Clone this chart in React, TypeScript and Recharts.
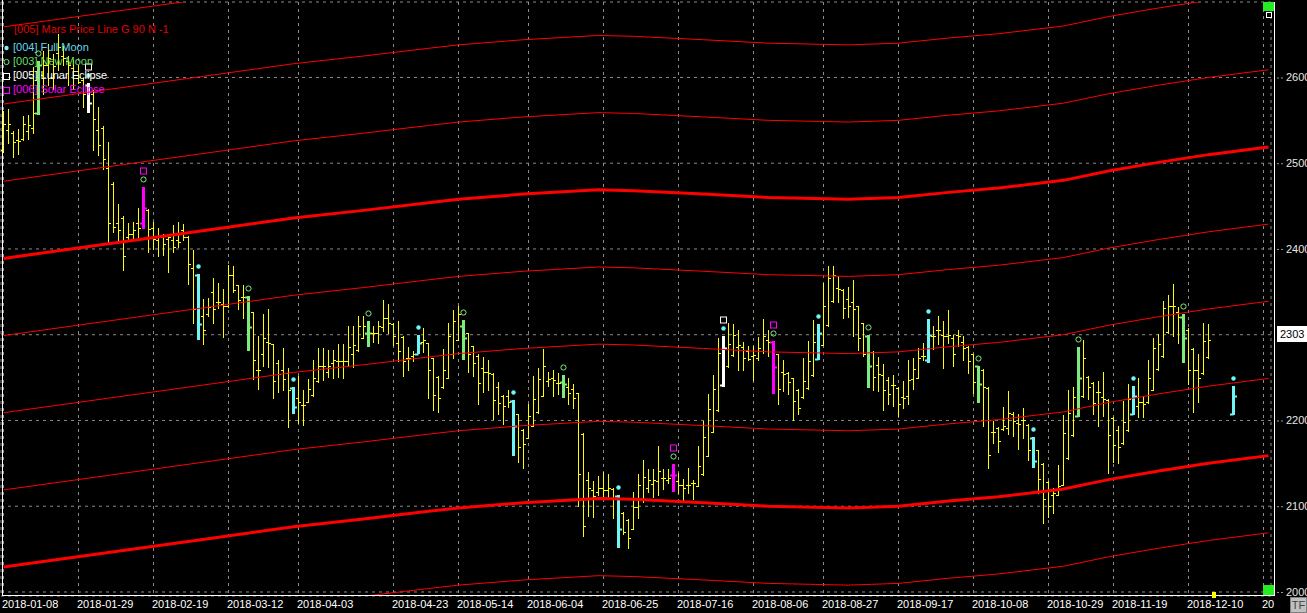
import { Bar, CartesianGrid, ComposedChart, Line, XAxis, YAxis } from 'recharts';

// daily OHLC, bar index 0 = 2018-01-08 (null = no bar)
const opens = [
  2515, 2539, 2535, 2527, 2528, 2538, 2541, 2558, 2603, 2615,
  2599, 2629, 2625, 2619, 2611, 2599, 2597, 2591, 2581, 2539,
  2541, 2495, 2476, 2430, 2436, 2414, 2418, 2430, 2430, 2446,
  2424, 2410, 2415, 2412, 2410, 2410, 2422, 2414, 2378, 2370,
  2322, 2324, 2350, 2338, 2336, 2334, 2370, 2358, 2344, 2344,
  2326, 2259, 2277, 2292, 2289, 2267, 2259, 2255, 2238, 2226,
  2218, 2222, 2230, 2246, 2263, 2257, 2267, 2269, 2269, 2269,
  2277, 2282, 2296, 2302, 2302, 2302, 2309, 2320, 2313, 2290,
  2297, 2273, 2275, 2277, 2292, 2290, 2273, 2251, 2239, 2250,
  2277, 2294, 2310, 2302, 2287, 2275, 2261, 2256, 2254, 2239,
  2229, 2229, 2223, 2208, 2189, 2180, 2194, 2210, 2229, 2246,
  2249, 2244, 2245, 2239, 2237, 2232, 2184, 2131, 2119, 2117,
  2121, 2119, 2120, 2112, 2092, 2084, 2074, 2099, 2107, 2121,
  2126, 2129, 2133, 2131, 2136, 2129, 2125, 2125, 2127, 2123,
  2137, 2158, 2187, 2212, 2241, 2263, 2276, 2286, 2286, 2281,
  2275, 2273, 2281, 2294, 2292, 2277, 2257, 2255, 2249, 2236,
  2227, 2238, 2253, 2272, 2288, 2311, 2339, 2354, 2352, 2342,
  2338, 2333, 2314, 2299, 2280, 2265, 2253, 2247, 2241, 2238,
  2227, 2229, 2248, 2250, 2275, 2270, 2298, 2306, 2300, 2298,
  2296, 2300, 2292, 2286, 2277, 2263, 2259, 2238, 2187, 2191,
  2190, 2191, 2208, 2197, 2201, 2195, 2180, 2165, 2149, 2128,
  2113, 2113, 2125, 2156, 2183, 2205, 2228, 2251, 2244, 2233,
  2227, 2224, 2203, 2189, 2174, 2189, 2208, 2217, 2222, 2221,
  2236, 2260, 2275, 2303, 2333, 2326, 2321, 2306, 2283, 2259,
  2255, 2274, null, null, null, null, 2208,
];
const highs = [
  2561, 2563, 2537, 2540, 2555, 2556, 2612, 2619, 2631, 2639,
  2627, 2651, 2637, 2625, 2620, 2615, 2599, 2593, 2585, 2565,
  2543, 2525, 2478, 2452, 2439, 2430, 2431, 2448, 2472, 2447,
  2432, 2424, 2418, 2418, 2428, 2432, 2429, 2415, 2399, 2371,
  2342, 2343, 2366, 2360, 2353, 2381, 2380, 2358, 2358, 2345,
  2326, 2298, 2324, 2330, 2289, 2270, 2285, 2261, 2239, 2252,
  2236, 2248, 2271, 2285, 2285, 2282, 2282, 2289, 2289, 2310,
  2310, 2322, 2322, 2316, 2310, 2316, 2340, 2336, 2314, 2316,
  2298, 2286, 2281, 2300, 2308, 2290, 2273, 2252, 2283, 2314,
  2329, 2334, 2317, 2302, 2287, 2277, 2274, 2271, 2255, 2245,
  2230, 2235, 2224, 2208, 2190, 2219, 2252, 2261, 2283, 2257,
  2259, 2255, 2253, 2249, 2243, 2232, 2185, 2140, 2129, 2135,
  2140, 2138, 2121, 2113, 2093, 2085, 2117, 2137, 2154, 2143,
  2143, 2170, 2143, 2143, 2149, 2139, 2132, 2144, 2131, 2170,
  2199, 2231, 2253, 2296, 2298, 2314, 2313, 2305, 2292, 2287,
  2287, 2297, 2318, 2306, 2293, 2277, 2270, 2256, 2250, 2237,
  2273, 2293, 2317, 2312, 2360, 2380, 2380, 2368, 2353, 2356,
  2364, 2334, 2314, 2300, 2281, 2274, 2266, 2251, 2253, 2239,
  2246, 2270, 2273, 2285, 2290, 2318, 2310, 2322, 2316, 2329,
  2300, 2306, 2298, 2287, 2278, 2264, 2260, 2239, 2199, 2192,
  2216, 2234, 2210, 2207, 2215, 2196, 2181, 2166, 2150, 2129,
  2121, 2148, 2206, 2235, 2239, 2286, 2294, 2252, 2245, 2246,
  2257, 2225, 2204, 2194, 2223, 2242, 2240, 2249, 2229, 2271,
  2296, 2301, 2339, 2346, 2359, 2332, 2324, 2308, 2284, 2278,
  2314, 2312, null, null, null, null, 2240,
];
const lows = [
  2513, 2523, 2507, 2511, 2527, 2528, 2535, 2556, 2581, 2591,
  2587, 2609, 2615, 2591, 2587, 2593, 2565, 2559, 2515, 2509,
  2493, 2408, 2420, 2409, 2375, 2411, 2412, 2414, 2423, 2396,
  2400, 2392, 2393, 2373, 2396, 2402, 2410, 2359, 2314, 2294,
  2289, 2322, 2314, 2331, 2297, 2332, 2350, 2330, 2320, 2281,
  2248, 2237, 2263, 2262, 2226, 2233, 2235, 2192, 2207, 2197,
  2195, 2221, 2229, 2245, 2247, 2251, 2249, 2251, 2249, 2263,
  2262, 2281, 2296, 2286, 2292, 2290, 2304, 2302, 2288, 2269,
  2252, 2259, 2269, 2277, 2280, 2226, 2212, 2210, 2238, 2249,
  2273, 2294, 2271, 2256, 2252, 2219, 2233, 2235, 2202, 2208,
  2196, 2216, 2159, 2152, 2145, 2180, 2193, 2209, 2228, 2240,
  2228, 2231, 2226, 2219, 2214, 2100, 2065, 2089, 2088, 2113,
  2111, 2111, 2086, 2051, 2068, 2051, 2073, 2086, 2105, 2117,
  2111, 2113, 2120, 2127, 2117, 2115, 2107, 2115, 2108, 2123,
  2136, 2158, 2186, 2211, 2239, 2262, 2275, 2259, 2259, 2270,
  2247, 2271, 2279, 2275, 2231, 2219, 2234, 2231, 2200, 2207,
  2226, 2237, 2252, 2271, 2288, 2310, 2338, 2338, 2320, 2321,
  2298, 2282, 2275, 2238, 2235, 2234, 2212, 2219, 2217, 2205,
  2215, 2219, 2237, 2249, 2271, 2267, 2283, 2289, 2261, 2290,
  2263, 2287, 2270, 2255, 2232, 2220, 2194, 2144, 2174, 2163,
  2189, 2184, 2182, 2167, 2179, 2154, 2144, 2115, 2080, 2088,
  2092, 2113, 2125, 2155, 2182, 2204, 2227, 2225, 2207, 2194,
  2205, 2139, 2151, 2150, 2173, 2188, 2206, 2204, 2204, 2220,
  2235, 2259, 2274, 2302, 2298, 2290, 2267, 2243, 2210, 2222,
  2254, 2273, null, null, null, null, 2206,
];
const closes = [
  2546, 2546, 2525, 2526, 2546, 2545, 2559, 2615, 2615, 2623,
  2613, 2635, 2623, 2615, 2603, 2595, 2581, 2570, 2551, 2521,
  2505, 2430, 2426, 2422, 2392, 2418, 2422, 2424, 2448, 2423,
  2412, 2414, 2406, 2414, 2402, 2408, 2414, 2382, 2330, 2312,
  2305, 2332, 2330, 2338, 2334, 2370, 2352, 2340, 2344, 2309,
  2270, 2259, 2296, 2290, 2246, 2254, 2248, 2235, 2216, 2221,
  2218, 2237, 2249, 2263, 2263, 2263, 2270, 2269, 2269, 2286,
  2288, 2310, 2310, 2302, 2302, 2310, 2320, 2314, 2298, 2281,
  2269, 2273, 2277, 2290, 2294, 2259, 2230, 2226, 2259, 2298,
  2316, 2324, 2296, 2277, 2267, 2244, 2256, 2255, 2224, 2220,
  2217, 2221, 2194, 2169, 2172, 2205, 2225, 2248, 2264, 2248,
  2247, 2244, 2242, 2232, 2226, 2138, 2077, 2121, 2112, 2121,
  2119, 2121, 2110, 2074, 2070, 2063, 2099, 2125, 2134, 2131,
  2131, 2141, 2133, 2133, 2136, 2125, 2121, 2125, 2127, 2147,
  2181, 2213, 2237, 2279, 2285, 2289, 2300, 2288, 2273, 2272,
  2276, 2285, 2298, 2292, 2262, 2237, 2254, 2245, 2223, 2215,
  2246, 2269, 2292, 2302, 2334, 2366, 2370, 2353, 2331, 2334,
  2330, 2296, 2277, 2263, 2251, 2254, 2236, 2231, 2241, 2219,
  2226, 2247, 2260, 2273, 2275, 2300, 2298, 2306, 2298, 2300,
  2278, 2298, 2284, 2269, 2245, 2242, 2239, 2160, 2187, 2176,
  2194, 2209, 2199, 2196, 2200, 2165, 2153, 2132, 2109, 2100,
  2115, 2124, 2185, 2209, 2227, 2250, 2273, 2239, 2220, 2233,
  2225, 2183, 2171, 2169, 2198, 2225, 2229, 2222, 2219, 2250,
  2285, 2289, 2331, 2334, 2333, 2321, 2296, 2259, 2259, 2249,
  2293, 2294, null, null, null, null, 2229,
];

// lunar events (bar index)
const fullMoon = [17, 39, 58, 83, 102, 123, 144, 163, 185, 206, 226, 246];
const newMoon = [7, 28, 49, 73, 92, 112, 134, 154, 173, 195, 215, 236];
const lunarEclipse = [17, 144];
const solarEclipse = [28, 134, 154];

// Mars price line: base curve read at some bars, copies every 90 points
const marsIdx = [0, 21, 42, 58, 72, 85, 91, 104, 119, 126, 140, 153, 169, 179, 189, 199, 212, 221, 231, 241, 253];
const marsBase = [2389, 2406, 2423, 2436, 2445, 2454, 2458, 2464, 2469, 2468, 2464, 2460, 2458, 2460, 2466, 2471, 2480, 2491, 2501, 2510, 2519];
const marsLevels = [-450, -360, -270, -180, -90, 0, 90, 180, 270];

const xTickIdx = [0, 15, 30, 45, 59, 78, 91, 105, 120, 135, 150, 164, 179, 194, 209, 222, 237, 252];
const xTickLabels = [
  '2018-01-08', '2018-01-29', '2018-02-19', '2018-03-12', '2018-04-03', '2018-04-23',
  '2018-05-14', '2018-06-04', '2018-06-25', '2018-07-16', '2018-08-06', '2018-08-27',
  '2018-09-17', '2018-10-08', '2018-10-29', '2018-11-19', '2018-12-10', '20',
];
const yTicks = [2000, 2100, 2200, 2300, 2400, 2500, 2600];
const lastPrice = 2303;

const N_SLOTS = 254;
const FONT = '"Liberation Sans", Arial, sans-serif';
const YELLOW = '#ffff00';
const CYAN = '#6ef6f6';
const GREEN = '#7ced7c';
const MAGENTA = '#ff00ff';

const data = Array.from({ length: N_SLOTS }, (_, i) => {
  const row: any = { i };
  if (highs[i] != null) {
    row.o = opens[i];
    row.h = highs[i];
    row.l = lows[i];
    row.c = closes[i];
    row.range = [lows[i], highs[i]];
  }
  const k = marsIdx.indexOf(i);
  if (k >= 0) marsLevels.forEach((lv, j) => (row['m' + j] = marsBase[k] + lv));
  return row;
});

function barColor(i: number) {
  if (solarEclipse.includes(i)) return MAGENTA;
  if (lunarEclipse.includes(i)) return '#ffffff';
  if (fullMoon.includes(i)) return CYAN;
  if (newMoon.includes(i)) return GREEN;
  return YELLOW;
}

function OhlcBar(props: any) {
  const { x, y, width, height, payload } = props;
  if (!payload || payload.h == null) return null;
  const i = payload.i;
  const cx = Math.floor(x + width / 2) + 0.5;
  const span = payload.h - payload.l || 1;
  const py = (v: number) => Math.round(y + ((payload.h - v) / span) * height) + 0.5;
  const color = barColor(i);
  const top = Math.round(y);
  const bot = Math.round(y + height);
  const yo = py(payload.o);
  const yc = py(payload.c);
  const thick = color !== YELLOW;
  return (
    <g>
      {thick ? (
        <>
          <rect x={cx - 1.5} y={top} width={3} height={Math.max(1, bot - top)} fill={color} />
          <line x1={cx - 3.5} x2={cx} y1={yo} y2={yo} stroke={color} strokeWidth={2} />
          <line x1={cx} x2={cx + 3.5} y1={yc} y2={yc} stroke={color} strokeWidth={2} />
        </>
      ) : (
        <>
          <line x1={cx} x2={cx} y1={top} y2={bot + 1} stroke={color} strokeWidth={1} />
          <line x1={cx - 2.5} x2={cx} y1={yo} y2={yo} stroke={color} strokeWidth={1} />
          <line x1={cx} x2={cx + 2.5} y1={yc} y2={yc} stroke={color} strokeWidth={1} />
        </>
      )}
      {fullMoon.includes(i) && <circle cx={cx} cy={top - 7.5} r={2.2} fill={CYAN} />}
      {newMoon.includes(i) && <circle cx={cx} cy={top - 7.5} r={2.6} fill="none" stroke={GREEN} strokeWidth={1} />}
      {lunarEclipse.includes(i) && <rect x={cx - 3} y={top - 19} width={6} height={6} fill="none" stroke="#fff" />}
      {solarEclipse.includes(i) && <rect x={cx - 3} y={top - 19} width={6} height={6} fill="none" stroke={MAGENTA} />}
    </g>
  );
}

function XTick({ x, y, payload }: any) {
  const k = xTickIdx.indexOf(payload.value);
  return (
    <text x={x - 1.5} y={y + 12} fill="#ffffff" fontSize={11} fontFamily={FONT} textAnchor="start">
      {xTickLabels[k]}
    </text>
  );
}

function YTick({ x, y, payload }: any) {
  // the last-price box sits over the 2300 label, as in the original
  const hidden = Math.abs(payload.value - lastPrice) < 10;
  return (
    <g>
      <line x1={x + 6} x2={x + 12} y1={y + 0.5} y2={y + 0.5} stroke="#9a9a9a" strokeDasharray="2 2" />
      {!hidden && (
        <text x={x + 15} y={y + 4} fill="#e6e6e6" fontSize={11} fontFamily={FONT} textAnchor="start">
          {payload.value}
        </text>
      )}
    </g>
  );
}

const legend = [
  { label: '[004] Full Moon', color: '#66d6ee', icon: 'dot', iconColor: CYAN, top: 48 },
  { label: '[003] New Moon', color: '#66dd66', icon: 'circle', iconColor: GREEN, top: 62 },
  { label: '[005] Lunar Eclipse', color: '#ffffff', icon: 'square', iconColor: '#ffffff', top: 76 },
  { label: '[006] Solar Eclipse', color: '#ff00ff', icon: 'square', iconColor: MAGENTA, top: 90 },
];

const abs = (left: number, top: number, width: number, height: number, background: string) => ({
  position: 'absolute' as const, left, top, width, height, background,
});

export default function App() {
  return (
    <div style={{ position: 'absolute', left: 0, top: 0, width: 1307, height: 613, background: '#000', overflow: 'hidden' }}>
      <ComposedChart width={1307} height={613} data={data} margin={{ top: 2, right: 0, bottom: 0, left: 1 }} barCategoryGap={0}>
        <CartesianGrid stroke="#8a8a8a" strokeDasharray="3 4" />
        <XAxis
          dataKey="i"
          type="category"
          ticks={xTickIdx}
          interval={0}
          height={17}
          axisLine={false}
          tickLine={false}
          tickSize={0}
          tickMargin={0}
          tick={<XTick />}
        />
        <YAxis
          orientation="right"
          domain={[1995.3, 2688]}
          allowDataOverflow
          ticks={yTicks}
          width={36}
          axisLine={false}
          tickLine={false}
          tickSize={0}
          tickMargin={0}
          tick={<YTick />}
        />
        {marsLevels.map((lv, j) => (
          <Line
            key={lv}
            dataKey={'m' + j}
            type="linear"
            stroke="#ff0000"
            strokeWidth={lv % 360 === 0 ? 3 : 1}
            dot={false}
            connectNulls
            isAnimationActive={false}
          />
        ))}
        <Bar dataKey="range" shape={<OhlcBar />} isAnimationActive={false} />
      </ComposedChart>

      {/* plot frame */}
      <div style={abs(2, 0, 1, 596, '#ffffff')} />
      <div style={abs(2, 595, 1273, 1, '#ffffff')} />
      <div style={abs(1274, 2, 1, 594, '#ffffff')} />
      <div style={abs(1263, 2, 11, 9, '#22ee22')} />
      <div style={{ ...abs(1266, 12, 6, 6, '#000'), border: '1px solid #fff', boxSizing: 'border-box' }} />
      <div style={abs(1263, 585, 11, 10, '#22ee22')} />
      <div style={abs(1212, 592, 4, 6, '#ffff00')} />

      {/* last price */}
      <div
        style={{
          ...abs(1277, 326, 30, 16, '#ffffff'),
          color: '#000',
          fontFamily: FONT,
          fontSize: 11,
          lineHeight: '16px',
          paddingLeft: 3,
          boxSizing: 'border-box',
        }}
      >
        {lastPrice}
      </div>

      {/* TF button */}
      <div
        style={{
          ...abs(1290, 597, 17, 16, '#c0c0c0'),
          border: '1px solid #808080',
          boxSizing: 'border-box',
          color: '#404040',
          fontFamily: FONT,
          fontSize: 11,
          lineHeight: '14px',
          textAlign: 'center',
        }}
      >
        TF
      </div>

      {/* legend */}
      <div style={{ position: 'absolute', left: 14, top: 23, color: '#e00000', fontFamily: FONT, fontSize: 11, whiteSpace: 'nowrap' }}>
        [005] Mars Price Line G 90 N -1
      </div>
      {legend.map((it) => (
        <div key={it.label}>
          <svg style={{ position: 'absolute', left: 2, top: it.top - 5 }} width={10} height={10}>
            {it.icon === 'dot' && <circle cx={4.5} cy={5} r={2.2} fill={it.iconColor} />}
            {it.icon === 'circle' && <circle cx={4.5} cy={5} r={2.6} fill="none" stroke={it.iconColor} />}
            {it.icon === 'square' && <rect x={1.5} y={2.5} width={6} height={6} fill="none" stroke={it.iconColor} />}
          </svg>
          <div
            style={{
              position: 'absolute',
              left: 13,
              top: it.top - 7,
              color: it.color,
              fontFamily: FONT,
              fontSize: 11,
              whiteSpace: 'nowrap',
            }}
          >
            {it.label}
          </div>
        </div>
      ))}
    </div>
  );
}
